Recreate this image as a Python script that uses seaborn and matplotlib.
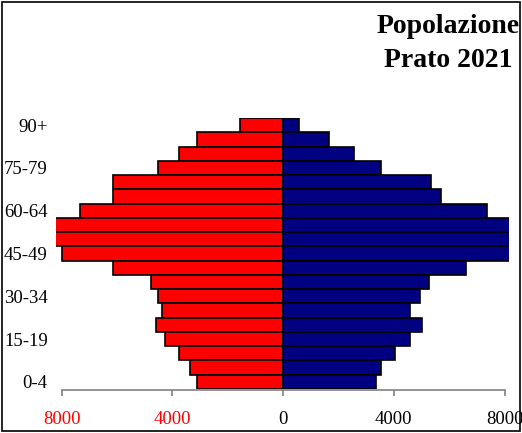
import matplotlib
matplotlib.use("Agg")
import matplotlib.pyplot as plt
import pandas as pd
import seaborn as sns
from matplotlib.patches import Rectangle

# age classes, bottom to top
AGES = ["0-4", "5-9", "10-14", "15-19", "20-24", "25-29", "30-34", "35-39",
        "40-44", "45-49", "50-54", "55-59", "60-64", "65-69", "70-74",
        "75-79", "80-84", "85-89", "90+"]
# left side (red) and right side (blue)
LEFT = [3120, 3360, 3750, 4270, 4600, 4360, 4530, 4760, 6140, 7990,
        8600, 8700, 7320, 6140, 6140, 4500, 3750, 3120, 1540]
RIGHT = [3350, 3520, 4030, 4580, 5030, 4580, 4930, 5260, 6590, 8400,
         8700, 8600, 7360, 5690, 5360, 3520, 2580, 1670, 580]
XTICKS = [-8000, -4000, 0, 4000, 8000]
XTICK_LABELS = ["8000", "4000", "0", "4000", "8000"]
XTICK_COLORS = ["#ff0000", "#ff0000", "black", "black", "black"]
SHOWN_AGES = ["0-4", "15-19", "30-34", "45-49", "60-64", "75-79", "90+"]

sns.set_style("white")
plt.rcParams["font.family"] = ["Liberation Serif", "DejaVu Serif"]
plt.rcParams["text.color"] = "black"

df = pd.DataFrame({"age": AGES, "left": [-v for v in LEFT], "right": RIGHT})
order = AGES[::-1]

fig = plt.figure(figsize=(5.22, 4.33), dpi=100)
ax = fig.add_axes([56 / 522, 1 - 389 / 433, (509 - 56) / 522, (389 - 118) / 433])

sns.barplot(data=df, y="age", x="left", order=order, orient="h", color="#ff0000",
            saturation=1, width=1.0, edgecolor="black", linewidth=1.2, ax=ax)
sns.barplot(data=df, y="age", x="right", order=order, orient="h", color="#000080",
            saturation=1, width=1.0, edgecolor="black", linewidth=1.2, ax=ax)

ax.set_xlim(-8200, 8160)
ax.set_ylim(len(AGES) - 0.5, -0.5)
ax.set_xlabel("")
ax.set_ylabel("")

ax.set_xticks(XTICKS)
ax.set_xticklabels(XTICK_LABELS)
ax.set_yticks([order.index(a) for a in SHOWN_AGES])
ax.set_yticklabels(SHOWN_AGES)
ax.tick_params(axis="x", bottom=True, length=4, width=1.2, color="#808080",
               pad=11, labelsize=13.5)
ax.tick_params(axis="y", left=False, length=0, pad=6, labelsize=13.5,
               labelcolor="black")

for side in ["left", "top", "right"]:
    ax.spines[side].set_visible(False)
ax.spines["bottom"].set_color("#808080")
ax.spines["bottom"].set_linewidth(1.2)
ax.spines["bottom"].set_bounds(-8000, 8000)
ax.spines["bottom"].set_position(("outward", 1))

fig.text(448 / 522, 1 - 33 / 433, "Popolazione", ha="center", va="baseline",
         fontsize=20, fontweight="bold", color="black")
fig.text(448 / 522, 1 - 67 / 433, "Prato 2021", ha="center", va="baseline",
         fontsize=20, fontweight="bold", color="black")

fig.patches.append(Rectangle((0.004, 0.004), 0.992, 0.992, transform=fig.transFigure,
                             fill=False, edgecolor="black", linewidth=1.2))

for lab, c in zip(ax.get_xticklabels(), XTICK_COLORS):
    lab.set_color(c)

fig.savefig("out.png", dpi=100)
